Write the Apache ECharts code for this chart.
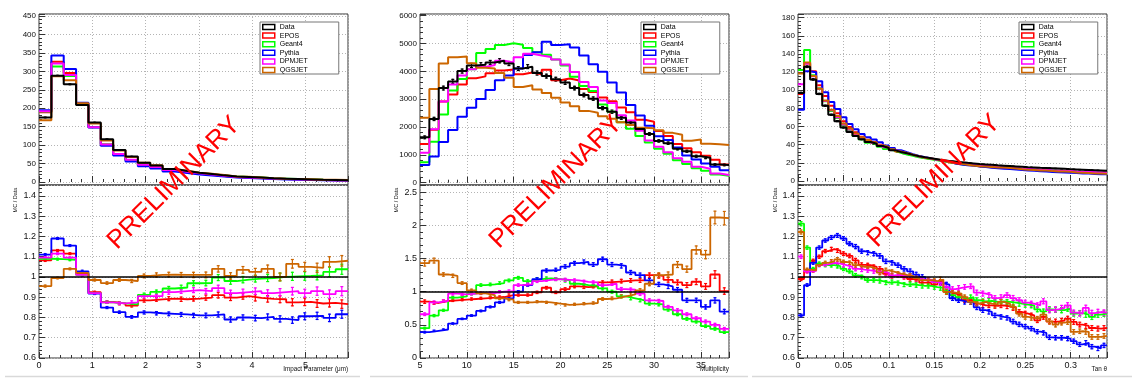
<!DOCTYPE html>
<html>
<head>
<meta charset="utf-8">
<script src="https://cdn.jsdelivr.net/npm/echarts@6/dist/echarts.min.js"></script>
<style>
  html, body { margin: 0; padding: 0; background: #fff; }
  #main { width: 1137px; height: 381px; }
</style>
</head>
<body>
<div id="main"></div>
<script>
// legend order / colours
var seriesNames = ['Data', 'EPOS', 'Geant4', 'Pythia', 'DPMJET', 'QGSJET'];
var colors = ['#000000', '#ff0000', '#00ff00', '#0000ff', '#ff00ff', '#cc6600'];

// ---- panel 1: impact parameter, 25 bins over 0..5.8 ----
var ipData   = [175,288,265,209,161,116,87,69,52,45,35,30,25,22,18,15,13.5,12,10,9,8,7,6,5.5,5];
var ipEPOS   = [189.4,325.7,295.5,212.3,148.9,101.7,75.6,59.3,46.0,40.0,31.3,26.7,22.3,19.8,16.4,13.5,12.2,10.8,8.9,8.0,7.0,6.1,5.2,4.8,4.3];
var ipGeant4 = [190.8,313.3,287.5,211.1,148.1,101.5,75.7,59.7,47.4,41.7,33.0,28.4,24.2,21.3,17.9,14.7,13.3,11.9,10.0,9.0,8.0,7.0,6.0,5.6,5.2];
var ipPythia = [194.3,342.7,306.1,214.9,147.8,98.5,71.9,55.4,42.9,36.9,28.6,24.5,20.3,17.8,14.7,11.9,10.8,9.6,8.0,7.1,6.3,5.6,4.8,4.4,4.1];
var ipDPMJET = [191.6,321.1,290.2,211.1,148.1,101.5,75.7,60.4,47.1,40.7,32.4,27.9,23.4,20.5,17.0,13.8,12.5,11.2,9.2,8.3,7.4,6.4,5.6,5.0,4.7];
var ipQGSJET = [167.1,286.6,275.6,213.2,158.6,112.5,85.7,67.6,52.3,45.5,35.4,30.3,25.3,22.2,18.7,15.1,14.0,12.3,10.4,9.0,8.5,7.4,6.3,5.9,5.4];
var ipRatioEPOS   = [1.082,1.131,1.115,1.016,0.925,0.877,0.869,0.859,0.884,0.889,0.893,0.89,0.893,0.898,0.91,0.898,0.905,0.897,0.892,0.89,0.875,0.877,0.869,0.872,0.866];
var ipRatioGeant4 = [1.09,1.088,1.085,1.01,0.92,0.875,0.87,0.865,0.912,0.926,0.943,0.948,0.969,0.97,0.997,0.98,0.987,0.992,0.995,1.0,1.003,1.005,1.008,1.025,1.038];
var ipRatioPythia = [1.11,1.19,1.155,1.028,0.918,0.849,0.826,0.803,0.825,0.821,0.818,0.815,0.81,0.81,0.815,0.79,0.8,0.797,0.803,0.793,0.787,0.806,0.808,0.798,0.816];
var ipRatioDPMJET = [1.095,1.115,1.095,1.01,0.92,0.875,0.87,0.875,0.905,0.905,0.925,0.93,0.935,0.93,0.945,0.92,0.925,0.93,0.92,0.925,0.93,0.92,0.93,0.915,0.93];
var ipRatioQGSJET = [0.955,0.995,1.04,1.02,0.985,0.97,0.985,0.98,1.005,1.01,1.012,1.01,1.01,1.01,1.04,1.005,1.035,1.025,1.04,1.0,1.065,1.05,1.045,1.075,1.08];
var ipRelErr = [0.005,0.004,0.004,0.005,0.005,0.006,0.007,0.008,0.009,0.01,0.011,0.012,0.013,0.014,0.015,0.016,0.016,0.017,0.018,0.019,0.02,0.021,0.022,0.023,0.024];

// ---- panel 2: multiplicity, 33 bins over 5..38 ----
var multData   = [1630,2290,3400,3640,4010,4210,4240,4320,4380,4280,4100,4170,3940,3830,3720,3600,3400,3150,3020,2680,2550,2330,2160,1930,1750,1500,1420,1220,1130,950,900,650,640];
var multEPOS   = [1390,1900,2920,3170,3530,3750,3820,3930,4030,4070,3900,3960,3900,4060,3680,3740,3670,3370,3260,3060,2930,2700,2530,2260,2190,1860,1680,1390,1240,1090,970,820,650];
var multGeant4 = [730,1470,2450,3310,3730,4080,4660,4800,4950,5010,4960,4840,4690,4600,4430,4210,3810,3470,3290,2810,2550,2170,1940,1680,1440,1220,1040,810,670,520,430,290,250];
var multPythia = [640,940,1460,1890,2370,2690,3010,3330,3680,3850,4100,4590,4690,5060,4950,4970,4860,4570,4260,3990,3600,3240,2790,2410,2050,1670,1530,1260,980,830,690,570,450];
var multDPMJET = [1080,1920,2920,3530,3850,4080,4160,4230,4380,4320,4510,4630,4570,4520,4430,4250,3980,3620,3440,2950,2860,2420,2230,1870,1520,1290,1090,880,750,570,500,330,280];
var multQGSJET = [2330,3370,4280,4510,4530,4290,4130,4100,3940,3770,3440,3500,3350,3220,3050,2880,2750,2580,2510,2390,2300,2170,2070,1970,1960,1880,1790,1720,1510,1550,1400,1380,1350];
var multRatioEPOS   = [0.85,0.83,0.86,0.87,0.88,0.89,0.9,0.91,0.92,0.95,0.95,0.95,0.99,1.06,0.99,1.04,1.08,1.07,1.08,1.14,1.15,1.16,1.17,1.17,1.25,1.24,1.18,1.14,1.1,1.15,1.08,1.26,1.01];
var multRatioGeant4 = [0.45,0.64,0.72,0.91,0.93,0.97,1.1,1.11,1.13,1.17,1.21,1.16,1.19,1.2,1.19,1.17,1.12,1.1,1.09,1.05,1.0,0.93,0.9,0.87,0.82,0.81,0.73,0.66,0.59,0.55,0.48,0.44,0.39];
var multRatioPythia = [0.39,0.41,0.43,0.52,0.59,0.64,0.71,0.77,0.84,0.9,1.0,1.1,1.19,1.32,1.33,1.38,1.43,1.45,1.41,1.49,1.41,1.39,1.29,1.25,1.17,1.11,1.08,1.03,0.87,0.87,0.77,0.87,0.7];
var multRatioDPMJET = [0.66,0.84,0.86,0.97,0.96,0.97,0.98,0.98,1.0,1.01,1.1,1.11,1.16,1.18,1.19,1.18,1.17,1.15,1.14,1.1,1.12,1.04,1.03,0.97,0.87,0.86,0.77,0.72,0.66,0.6,0.55,0.5,0.44];
var multRatioQGSJET = [1.43,1.47,1.26,1.24,1.13,1.02,0.975,0.95,0.9,0.88,0.84,0.84,0.85,0.84,0.82,0.8,0.81,0.82,0.83,0.89,0.9,0.93,0.96,1.02,1.12,1.25,1.26,1.41,1.34,1.63,1.56,2.12,2.11];
var multRelErr = [0.03,0.025,0.02,0.02,0.018,0.018,0.017,0.017,0.017,0.017,0.017,0.017,0.018,0.018,0.018,0.019,0.019,0.02,0.02,0.021,0.022,0.023,0.024,0.025,0.026,0.028,0.03,0.032,0.034,0.037,0.04,0.045,0.048];

// ---- panel 3: tan theta, 51 bins over 0..0.34 ----
var tanData   = [97,126,112,96,83,73,66,59,54,49.6,46,43,41,38.6,36.4,34,32,30.5,28.8,27.3,26.1,25.1,24.1,23.0,22.2,21.4,20.7,20.0,19.4,18.8,18.3,17.8,17.3,16.9,16.5,16.1,15.7,15.3,15.0,14.6,14.3,14.0,13.7,13.4,13.1,12.8,12.5,12.2,11.9,11.6,11.3];
var tanEPOS   = [96.0,129.5,121.0,105.6,93.6,83.0,74.6,65.8,59.6,53.7,48.8,45.5,43.1,40.1,37.0,34.2,32.3,30.5,28.5,26.9,25.4,24.4,23.2,22.4,20.6,19.6,18.8,17.7,17.2,16.3,15.7,15.3,14.8,14.5,14.1,13.6,13.0,12.5,12.2,11.5,11.5,10.9,10.7,10.5,10.4,10.0,9.6,9.2,8.9,8.6,8.5];
var tanGeant4 = [122.5,144.3,116.5,102.3,87.8,77.2,69.5,61.4,55.5,50.0,46.0,42.3,40.3,37.8,35.4,33.2,31.0,29.3,27.8,26.2,25.0,24.0,22.9,21.8,20.6,19.5,18.6,17.9,17.5,16.6,16.1,15.7,15.2,14.9,14.5,14.1,13.6,13.2,12.9,12.3,11.9,11.8,11.5,11.2,11.1,10.5,10.3,9.9,9.6,9.4,9.3];
var tanPythia = [78.6,121.0,119.8,109.9,97.9,87.2,79.5,70.2,62.9,57.0,51.8,48.2,45.7,42.6,39.2,36.4,33.9,31.7,29.6,27.6,26.1,24.7,23.5,22.3,21.4,19.2,18.3,17.5,17.0,16.0,15.3,14.7,14.0,13.6,13.2,12.6,12.0,11.6,11.2,10.7,10.4,9.8,9.6,9.4,9.1,8.7,8.3,8.2,7.8,7.5,7.5];
var tanDPMJET = [106.7,129.5,115.4,101.6,88.1,78.1,70.4,62.4,56.7,51.6,47.7,44.4,42.1,39.6,37.1,34.3,32.3,30.7,28.8,27.1,25.8,24.8,23.5,22.3,21.1,20.1,19.6,19.0,18.5,17.4,16.8,16.2,15.5,15.2,15.0,14.4,13.9,13.4,13.0,12.6,12.6,11.7,11.5,11.3,11.3,10.5,10.2,10.3,9.8,9.6,9.3];
var tanQGSJET = [118.5,130.5,115.7,101.8,88.8,78.6,71.7,63.4,57.8,52.5,48.3,45.2,42.7,39.4,37.6,34.9,32.5,30.8,28.9,27.2,25.7,24.7,23.6,22.7,20.6,19.8,19.0,18.0,17.0,16.3,16.0,15.5,14.9,14.8,14.3,13.7,12.9,12.3,12.0,11.6,11.6,10.9,10.5,10.4,10.2,9.3,9.2,8.9,8.4,8.2,8.0];
var tanRatioEPOS   = [0.99,1.028,1.08,1.1,1.128,1.137,1.13,1.115,1.104,1.082,1.06,1.058,1.05,1.04,1.016,1.005,1.01,1.0,0.99,0.987,0.972,0.972,0.962,0.975,0.926,0.918,0.91,0.885,0.885,0.868,0.86,0.86,0.857,0.86,0.855,0.847,0.827,0.819,0.81,0.786,0.803,0.78,0.78,0.784,0.794,0.778,0.765,0.758,0.748,0.745,0.748];
var tanRatioGeant4 = [1.263,1.145,1.04,1.066,1.058,1.058,1.053,1.04,1.028,1.008,1.0,0.984,0.984,0.98,0.972,0.975,0.97,0.962,0.964,0.96,0.956,0.956,0.95,0.946,0.93,0.91,0.9,0.893,0.9,0.885,0.88,0.882,0.877,0.879,0.877,0.873,0.868,0.863,0.86,0.84,0.83,0.84,0.838,0.836,0.844,0.819,0.822,0.814,0.803,0.814,0.819];
var tanRatioPythia = [0.81,0.96,1.07,1.145,1.18,1.195,1.205,1.19,1.164,1.15,1.127,1.12,1.115,1.104,1.077,1.07,1.058,1.04,1.028,1.012,1.0,0.984,0.975,0.97,0.962,0.895,0.885,0.877,0.875,0.85,0.836,0.828,0.81,0.803,0.798,0.78,0.766,0.755,0.745,0.73,0.724,0.702,0.7,0.7,0.696,0.683,0.667,0.675,0.656,0.647,0.662];
var tanRatioDPMJET = [1.1,1.028,1.03,1.058,1.062,1.07,1.066,1.058,1.05,1.04,1.036,1.033,1.028,1.025,1.02,1.008,1.01,1.005,1.0,0.992,0.987,0.987,0.975,0.97,0.95,0.94,0.946,0.951,0.954,0.923,0.918,0.91,0.896,0.9,0.91,0.896,0.885,0.873,0.868,0.86,0.88,0.836,0.84,0.847,0.86,0.824,0.819,0.847,0.822,0.827,0.824];
var tanRatioQGSJET = [1.222,1.036,1.033,1.06,1.07,1.077,1.087,1.074,1.07,1.058,1.05,1.05,1.041,1.021,1.033,1.025,1.016,1.01,1.005,0.995,0.984,0.984,0.98,0.987,0.926,0.923,0.918,0.9,0.877,0.868,0.877,0.868,0.863,0.877,0.868,0.852,0.819,0.803,0.798,0.794,0.814,0.781,0.765,0.775,0.778,0.729,0.732,0.729,0.704,0.704,0.709];
var tanRelErr = [0.008,0.007,0.007,0.007,0.007,0.008,0.008,0.008,0.008,0.009,0.009,0.009,0.009,0.01,0.01,0.01,0.01,0.01,0.011,0.011,0.011,0.011,0.011,0.012,0.012,0.012,0.012,0.012,0.012,0.013,0.013,0.013,0.013,0.013,0.013,0.014,0.014,0.014,0.014,0.014,0.014,0.015,0.015,0.015,0.015,0.015,0.015,0.016,0.016,0.016,0.016];

var panels = [
  { left: 39, xMin: 0, xMax: 5.8, xStep: 1, topY: [-8.1, 455.4, 9], ratioY: [0.6, 1.454, 8],
    data: ipData, mc: [ipEPOS, ipGeant4, ipPythia, ipDPMJET, ipQGSJET],
    ratios: [ipRatioEPOS, ipRatioGeant4, ipRatioPythia, ipRatioDPMJET, ipRatioQGSJET],
    err: ipRelErr, title: 'Impact Parameter (\u03bcm)', legendLeft: 260, mcX: 15, prelim: [174, 183] },
  { left: 420, xMin: 5, xMax: 38, xStep: 5, topY: [-83, 6061, 6], ratioY: [0, 2.61, 5],
    data: multData, mc: [multEPOS, multGeant4, multPythia, multDPMJET, multQGSJET],
    ratios: [multRatioEPOS, multRatioGeant4, multRatioPythia, multRatioDPMJET, multRatioQGSJET],
    err: multRelErr, title: 'Multiplicity', legendLeft: 641, mcX: 396, prelim: [556, 182] },
  { left: 798, xMin: 0, xMax: 0.34, xStep: 0.05, topY: [-4.4, 184.1, 9], ratioY: [0.6, 1.454, 8],
    data: tanData, mc: [tanEPOS, tanGeant4, tanPythia, tanDPMJET, tanQGSJET],
    ratios: [tanRatioEPOS, tanRatioGeant4, tanRatioPythia, tanRatioDPMJET, tanRatioQGSJET],
    err: tanRelErr, title: 'Tan \u03b8', legendLeft: 1019, mcX: 775, prelim: [934, 181] }
];

var PLOT_W = 309;
var FONT = '"Liberation Sans", Arial, Helvetica, sans-serif';
var tickStyle = { color: '#333', width: 1 };
var gridLine = { color: '#b4b4b4', width: 1, type: [1, 2] };

// bin edges -> step points
function histLine(xMin, xMax, vals) {
  var w = (xMax - xMin) / vals.length;
  var pts = vals.map(function (v, i) { return [xMin + i * w, v]; });
  pts.push([xMax, vals[vals.length - 1]]);
  return pts;
}
function errPoints(xMin, xMax, vals, rel) {
  var w = (xMax - xMin) / vals.length;
  return vals.map(function (v, i) { return [xMin + (i + 0.5) * w, v, v * rel[i]]; });
}
function renderErr(params, api) {
  var x = api.value(0), y = api.value(1), e = api.value(2);
  var lo = api.coord([x, y - e]), hi = api.coord([x, y + e]);
  var st = { stroke: api.visual('color'), lineWidth: 1.2 };
  return { type: 'group', children: [
    { type: 'line', shape: { x1: lo[0], y1: lo[1] + 0.5, x2: hi[0], y2: hi[1] - 0.5 }, style: st },
    { type: 'line', shape: { x1: lo[0] - 1.5, y1: lo[1], x2: lo[0] + 1.5, y2: lo[1] }, style: st },
    { type: 'line', shape: { x1: hi[0] - 1.5, y1: hi[1], x2: hi[0] + 1.5, y2: hi[1] }, style: st }
  ]};
}
function stepSeries(name, color, gi, pts, width) {
  return { type: 'line', name: name, xAxisIndex: gi, yAxisIndex: gi, data: pts, step: 'end',
    symbol: 'none', showSymbol: false, color: color, clip: true,
    lineStyle: { color: color, width: width }, emphasis: { disabled: true } };
}
function errSeries(name, color, gi, pts) {
  return { type: 'custom', name: name, xAxisIndex: gi, yAxisIndex: gi, data: pts, clip: true,
    itemStyle: { color: color }, renderItem: renderErr, z: 3 };
}
function makeX(gi, p, labels) {
  return { type: 'value', gridIndex: gi, min: p.xMin, max: p.xMax, interval: p.xStep,
    axisLine: { show: false },
    axisTick: { show: true, inside: true, length: 6, lineStyle: tickStyle },
    minorTick: { show: true, splitNumber: 5, length: 3, lineStyle: tickStyle },
    splitLine: { show: true, lineStyle: gridLine },
    axisLabel: { show: labels, fontSize: 9, color: '#111', margin: 3, showMaxLabel: false, fontFamily: FONT } };
}
function makeY(gi, r, fs, plain) {
  var label = { fontSize: fs, color: '#111', margin: 3, showMaxLabel: false,
    showMinLabel: r[0] >= 0, fontFamily: FONT };
  if (plain) label.formatter = function (v) { return String(Math.round(v)); };
  return { type: 'value', gridIndex: gi, min: r[0], max: r[1], splitNumber: r[2],
    axisLine: { show: false },
    axisTick: { show: true, inside: true, length: 6, lineStyle: tickStyle },
    minorTick: { show: true, splitNumber: 5, length: 3, lineStyle: tickStyle },
    splitLine: { show: true, lineStyle: gridLine },
    axisLabel: label };
}

var grids = [], xAxes = [], yAxes = [], series = [], legends = [], graphics = [];

panels.forEach(function (p, k) {
  var gTop = 2 * k, gBot = 2 * k + 1;
  var frame = { show: true, borderColor: '#333', borderWidth: 1, backgroundColor: 'transparent',
    containLabel: false, outerBoundsMode: 'none' };
  grids.push(Object.assign({ left: p.left, top: 14, width: PLOT_W, height: 171 }, frame));
  grids.push(Object.assign({ left: p.left, top: 185, width: PLOT_W, height: 173 }, frame));
  xAxes.push(makeX(gTop, p, false));
  xAxes.push(makeX(gBot, p, true));
  yAxes.push(makeY(gTop, p.topY, 8, true));
  yAxes.push(makeY(gBot, p.ratioY, 9, false));

  // distributions: MC first, data on top
  p.mc.forEach(function (vals, m) {
    series.push(stepSeries(seriesNames[m + 1], colors[m + 1], gTop, histLine(p.xMin, p.xMax, vals), 2));
  });
  var d = stepSeries('Data', colors[0], gTop, histLine(p.xMin, p.xMax, p.data), 2);
  d.z = 3;
  series.push(d);
  series.push(errSeries('Data', colors[0], gTop, errPoints(p.xMin, p.xMax, p.data, p.err)));

  // MC / Data
  p.ratios.forEach(function (vals, m) {
    var s = stepSeries(seriesNames[m + 1], colors[m + 1], gBot, histLine(p.xMin, p.xMax, vals), 1.8);
    if (m === 0) {
      s.markLine = { silent: true, symbol: 'none', animation: false, label: { show: false },
        lineStyle: { color: '#000', width: 1.5, type: 'solid' }, data: [{ yAxis: 1 }], z: 6 };
    }
    series.push(s);
    series.push(errSeries(seriesNames[m + 1], colors[m + 1], gBot, errPoints(p.xMin, p.xMax, vals, p.err)));
  });

  legends.push({
    left: p.legendLeft, top: 22, orient: 'vertical', icon: 'rect',
    itemWidth: 12, itemHeight: 5, itemGap: 0.6, padding: [1, 31, 0, 2],
    backgroundColor: '#fff', borderColor: '#777', borderWidth: 1, selectedMode: false, z: 20,
    textStyle: { fontSize: 7, color: '#000', lineHeight: 8, fontFamily: FONT },
    data: seriesNames.map(function (n, i) {
      return { name: n, itemStyle: { color: '#fff', borderColor: colors[i], borderWidth: 1.5 } };
    })
  });

  graphics.push({ type: 'text', x: p.prelim[0], y: p.prelim[1], rotation: Math.PI / 4, z: 100,
    style: { text: 'PRELIMINARY', fill: '#ff0000', font: '26px ' + FONT, align: 'center', verticalAlign: 'middle' } });
  graphics.push({ type: 'text', x: p.left + PLOT_W, y: 369, z: 10,
    style: { text: p.title, fill: '#111', font: '6.3px ' + FONT, align: 'right', verticalAlign: 'middle' } });
  graphics.push({ type: 'text', x: p.mcX, y: 200, rotation: Math.PI / 2, z: 10,
    style: { text: 'MC / Data', fill: '#111', font: '5.5px ' + FONT, align: 'center', verticalAlign: 'middle' } });
});

// thin grey canvas edges along the bottom
[[5, 360], [370, 748], [752, 1132]].forEach(function (seg) {
  graphics.push({ type: 'line', z: 1, shape: { x1: seg[0], y1: 376.5, x2: seg[1], y2: 376.5 },
    style: { stroke: '#d9d9d9', lineWidth: 1.5 } });
});

var chart = echarts.init(document.getElementById('main'), null, { renderer: 'canvas' });
chart.setOption({
  animation: false,
  backgroundColor: '#ffffff',
  textStyle: { fontFamily: FONT },
  grid: grids,
  xAxis: xAxes,
  yAxis: yAxes,
  legend: legends,
  graphic: graphics,
  series: series
});
</script>
</body>
</html>
